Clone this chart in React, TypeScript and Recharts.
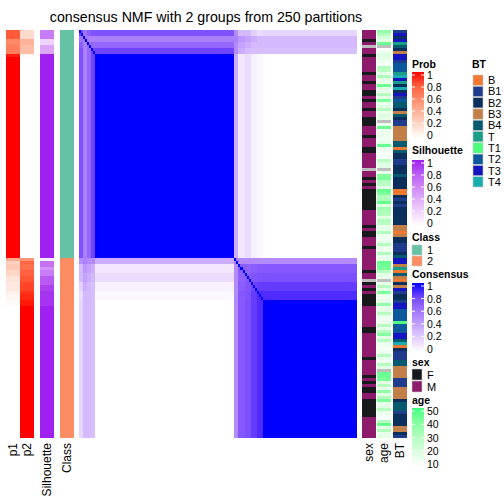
import React from "react";
import { ComposedChart, XAxis, YAxis, ReferenceArea, Scatter } from "recharts";

const N_SAMPLES = 136;
const TOP = 30;
const BODY_H = 408;

// [count, p1, p2] runs, top to bottom
const probRuns: [number, number, number][] = [
  [3, 0.8, 0.2], [2, 0.6, 0.4], [3, 0.65, 0.35], [1, 0.97, 0.03], [67, 1, 0],
  [1, 0.45, 0.55], [1, 0.25, 0.75], [2, 0.28, 0.72], [2, 0.22, 0.78], [2, 0.15, 0.82],
  [3, 0.12, 0.88], [1, 0.08, 0.92], [2, 0.05, 0.95], [2, 0.02, 0.98], [44, 0, 1],
];

const silhouetteRuns: [number, number][] = [
  [3, 0.65], [2, 0.22], [3, 0.45], [68, 1],
  [1, 0.08], [2, 0.7], [1, 0.55], [2, 0.65], [3, 0.8], [2, 0.9], [5, 0.95], [44, 1],
];

const classRuns: [number, number][] = [[76, 1], [60, 2]];

// consensus: sample blocks and upper-triangle block values
const blockSizes = [2, 2, 2, 2, 68, 2, 3, 3, 3, 3, 46];
const consensusRows = [
  [0.8, 0.6, 0.7, 0.75, 0.75, 0.5, 0.3, 0.3, 0.2, 0.15, 0.18],
  [0.6, 0.55, 0.55, 0.55, 0.55, 0.45, 0.4, 0.35, 0.3, 0.3],
  [0.65, 0.65, 0.65, 0.5, 0.4, 0.35, 0.3, 0.3, 0.3],
  [0.8, 0.8, 0.5, 0.35, 0.3, 0.28, 0.28, 0.28],
  [1, 0.35, 0.1, 0.15, 0.06, 0.03, 0],
  [0.55, 0.5, 0.5, 0.5, 0.5, 0.5],
  [0.7, 0.68, 0.7, 0.72, 0.72],
  [0.72, 0.74, 0.75, 0.76],
  [0.8, 0.84, 0.84],
  [0.9, 0.9],
  [1],
];

const sexRuns: [number, string | null][] = [
  [3, "M"], [1, "F"], [1, "M"], [1, null], [2, "M"], [1, "F"], [5, "M"], [1, "F"],
  [2, "M"], [1, "F"], [2, "M"], [2, "F"], [1, "M"], [1, "F"], [2, "M"], [1, "F"],
  [2, "M"], [3, "F"], [3, "M"], [1, "F"], [3, "M"], [2, "F"], [4, "M"],
  [1, "M"], [1, null], [2, "M"], [1, "F"], [1, "M"], [1, "F"], [1, "M"], [7, "F"],
  [5, "M"], [1, "F"], [1, "M"], [2, "F"], [3, "M"], [1, "F"], [7, "M"], [1, "F"],
  [2, "M"], [1, null], [1, "F"], [1, "M"], [1, "F"], [1, "M"], [4, "F"], [7, "M"],
  [2, "F"], [8, "M"], [1, "F"], [5, "M"], [1, "F"], [1, "M"], [1, "F"], [1, "M"],
  [2, "F"], [2, "M"], [6, "F"], [7, "M"],
];

const ageValues: (number | null)[] = [
  38, 30, 22, 18, 45, null, 10, 16, 20, 18,
  14, 12, 30, 28, 16, 32, 18, 15, 45, 18,
  16, 30, 18, 42, 16, 18, 30, 16, 20, 18,
  null, 16, 45, 14, 15, 16, 14, 18, 45, 16,
  14, 12, 12, 28, 20, 18, null, 16, 40, 42,
  30, 28, 18, 45, 42, 30, 32, 46, 18, 35,
  32, 30, 18, 30, 28, 16, 18, 30, 15, 14,
  16, 30, 16, 14, 32, 16, 18, 45, 44, 42,
  30, 18, 16, null, 16, 30, 18, 42, 16, 14,
  18, 38, 16, 18, 30, 16, 14, 15, 30, 16,
  30, 40, 18, 30, 16, 14, 12, 16, 30, 16,
  14, 30, 18, null, 45, 44, 42, 18, 30, 16,
  38, 18, 30, 42, 16, 18, 30, 16, 14, 10,
  30, 45, 18, 30, 16, 18,
];

const btValues: string[] = [
  "B1", "T3", "B2", "T3", "T", "B4", "B2", "B3", "T3", "T3",
  "B1", "T2", "T2", "T2", "T", "T4", "T3", "T", "B2", "T4",
  "B2", "T3", "B1", "T2", "B4", "B4", "B2", "B3", "B4", "B2",
  "B1", "B1", "B3", "B3", "B3", "B3", "B3", "B4", "B4", "B",
  "B4", "B2", "B2", "B1", "B1", "B2", "B2", "B2", "B4", "B2",
  "B2", "B2", "B2", "B", "B", "B2", "B1", "B2", "B1", "B2",
  "B2", "B2", "B2", "B2", "B2", "B3", "B3", "B", "B3", "B2",
  "B2", "B1", "B1", "B1", "B2", "B4", "T3", "T3", "B3", "T",
  "B", "B4", "B3", "B", "B2", "B3", "T3", "B1", "B2", "B2",
  "B1", "T3", "T3", "T2", "T2", "T2", "T2", "T1", "T2", "T2",
  "T2", "T3", "T3", "B4", "T4", "B", "B2", "B1", "B1", "B1",
  "B4", "B4", "B3", "B3", "B3", "B3", "B1", "B1", "B1", "B3",
  "B3", "B3", "B3", "B2", "B4", "B4", "B4", "B1", "B2", "B2",
  "B2", "B2", "B3", "B3", "B2", "B1",
];

const btLevels = ["B", "B1", "B2", "B3", "B4", "T", "T1", "T2", "T3", "T4"];
const btColors = ["#F07830", "#1F3C8C", "#0A2F5C", "#C28048", "#065A70", "#189E86", "#4CFF7E", "#0B589C", "#1414C0", "#18AEB0"];
const sexLevels = ["F", "M"];
const sexColors = ["#171A1C", "#8E1A6C"];
const classLevels = ["1", "2"];
const classColors = ["#66C2A5", "#FC8D62"];
const NA_COLOR = "#BEBEBE";

const PROB_HI = "#FF0000";
const SIL_HI = "#A020F0";
const CONS_HI = "#0000FF";
const AGE_HI = "#40FF80";
const AGE_RANGE = [10, 50];

// ---- white -> colour ramps in LAB, like colorRamp2 ----
function hexToRgb(h: string) {
  const n = parseInt(h.slice(1), 16);
  return [(n >> 16) & 255, (n >> 8) & 255, n & 255];
}
const toLin = (c: number) => {
  c /= 255;
  return c <= 0.04045 ? c / 12.92 : Math.pow((c + 0.055) / 1.055, 2.4);
};
const fromLin = (c: number) => {
  const v = c <= 0.0031308 ? 12.92 * c : 1.055 * Math.pow(Math.max(c, 0), 1 / 2.4) - 0.055;
  return Math.round(Math.max(0, Math.min(1, v)) * 255);
};
function rgbToLab(rgb: number[]) {
  const [R, G, B] = rgb.map(toLin);
  const x = (0.4124 * R + 0.3576 * G + 0.1805 * B) / 0.95047;
  const y = 0.2126 * R + 0.7152 * G + 0.0722 * B;
  const z = (0.0193 * R + 0.1192 * G + 0.9505 * B) / 1.08883;
  const f = (t: number) => (t > 0.008856 ? Math.cbrt(t) : 7.787 * t + 16 / 116);
  const fx = f(x), fy = f(y), fz = f(z);
  return [116 * fy - 16, 500 * (fx - fy), 200 * (fy - fz)];
}
function labToCss(lab: number[]) {
  const fy = (lab[0] + 16) / 116, fx = fy + lab[1] / 500, fz = fy - lab[2] / 200;
  const inv = (t: number) => (t * t * t > 0.008856 ? t * t * t : (t - 16 / 116) / 7.787);
  const x = inv(fx) * 0.95047, y = inv(fy), z = inv(fz) * 1.08883;
  const R = 3.2406 * x - 1.5372 * y - 0.4986 * z;
  const G = -0.9689 * x + 1.8758 * y + 0.0415 * z;
  const B = 0.0557 * x - 0.204 * y + 1.057 * z;
  return `rgb(${fromLin(R)},${fromLin(G)},${fromLin(B)})`;
}
function ramp(hi: string, lo = 0, up = 1) {
  const a = rgbToLab([255, 255, 255]);
  const b = rgbToLab(hexToRgb(hi));
  return (v: number) => {
    const t = Math.max(0, Math.min(1, (v - lo) / (up - lo)));
    return labToCss(a.map((p, i) => p + (b[i] - p) * t));
  };
}
const probCol = ramp(PROB_HI);
const silCol = ramp(SIL_HI);
const consCol = ramp(CONS_HI);
const ageCol = ramp(AGE_HI, AGE_RANGE[0], AGE_RANGE[1]);

type Cell = { x0: number; x1: number; y0: number; y1: number; fill: string };

function runsToCells<T>(runs: [number, ...T[]][], cols: ((r: [number, ...T[]]) => string)[]) {
  const cells: Cell[] = [];
  let s = 0;
  runs.forEach((r) => {
    cols.forEach((fn, c) => cells.push({ x0: c, x1: c + 1, y0: s, y1: s + r[0], fill: fn(r) }));
    s += r[0];
  });
  return cells;
}

const probCells = runsToCells(probRuns as any, [(r: any) => probCol(r[1]), (r: any) => probCol(r[2])]);
const silCells = runsToCells(silhouetteRuns as any, [(r: any) => silCol(r[1])]);
const classCells = runsToCells(classRuns as any, [(r: any) => classColors[r[1] - 1]]);
const sexCells = runsToCells(sexRuns as any, [
  (r: any) => (r[1] === null ? NA_COLOR : sexColors[sexLevels.indexOf(r[1])]),
]);
const ageCells: Cell[] = ageValues.map((v, i) => ({
  x0: 0, x1: 1, y0: i, y1: i + 1, fill: v === null ? NA_COLOR : ageCol(v),
}));
const btCells: Cell[] = btValues.map((v, i) => ({
  x0: 0, x1: 1, y0: i, y1: i + 1, fill: btColors[btLevels.indexOf(v)],
}));

function buildConsensus() {
  const starts: number[] = [];
  let s = 0;
  blockSizes.forEach((b) => { starts.push(s); s += b; });
  const cells: Cell[] = [];
  for (let i = 0; i < blockSizes.length; i++) {
    for (let j = i; j < blockSizes.length; j++) {
      const fill = consCol(consensusRows[i][j - i]);
      cells.push({ x0: starts[j], x1: starts[j] + blockSizes[j], y0: starts[i], y1: starts[i] + blockSizes[i], fill });
      if (i !== j) cells.push({ x0: starts[i], x1: starts[i] + blockSizes[i], y0: starts[j], y1: starts[j] + blockSizes[j], fill });
    }
  }
  // every sample agrees with itself
  blockSizes.forEach((b, k) => {
    if (consensusRows[k][0] >= 1) return;
    for (let t = starts[k]; t < starts[k] + b; t++) {
      cells.push({ x0: t, x1: t + 1, y0: t, y1: t + 1, fill: consCol(1) });
    }
  });
  return cells;
}
const consensusCells = buildConsensus();

function Strip({ left, width, cols, cells }: { left: number; width: number; cols: number; cells: Cell[] }) {
  return (
    <div style={{ position: "absolute", left, top: TOP, width, height: BODY_H, shapeRendering: "crispEdges" } as any}>
      <ComposedChart width={width} height={BODY_H} margin={{ top: 0, right: 0, bottom: 0, left: 0 }} data={[{ x: 0, y: 0 }]}>
        <XAxis type="number" dataKey="x" domain={[0, cols]} hide allowDataOverflow />
        <YAxis type="number" dataKey="y" domain={[0, N_SAMPLES]} reversed hide allowDataOverflow />
        <Scatter data={[{ x: 0, y: 0 }]} fillOpacity={0} isAnimationActive={false} />
        {cells.map((c, i) => (
          <ReferenceArea key={i} x1={c.x0} x2={c.x1} y1={c.y0} y2={c.y1} fill={c.fill} fillOpacity={1} stroke="none" ifOverflow="visible" />
        ))}
      </ComposedChart>
    </div>
  );
}

const FONT = "'Liberation Sans', Arial, Helvetica, sans-serif";

function ColorBar({ id, top, height, hi, lo, up, labels }: { id: string; top: number; height: number; hi: string; lo: number; up: number; labels: string[] }) {
  const fn = ramp(hi, lo, up);
  const stops = [0, 0.2, 0.4, 0.6, 0.8, 1];
  const n = labels.length;
  return (
    <g>
      <defs>
        <linearGradient id={id} x1="0" y1="1" x2="0" y2="0">
          {stops.map((t) => <stop key={t} offset={t} stopColor={fn(lo + t * (up - lo))} />)}
        </linearGradient>
      </defs>
      <rect x={412} y={top} width={12} height={height} fill={`url(#${id})`} />
      {labels.map((l, i) => {
        const y = top + 3 + ((height - 6) * i) / (n - 1);
        return (
          <g key={l}>
            <line x1={412} x2={415} y1={y} y2={y} stroke="#fff" strokeWidth={1} />
            <line x1={421} x2={424} y1={y} y2={y} stroke="#fff" strokeWidth={1} />
            <text x={427} y={y} fontSize={10.5} dominantBaseline="central">{l}</text>
          </g>
        );
      })}
    </g>
  );
}

function Swatches({ x, top, step, colors, labels }: { x: number; top: number; step: number; colors: string[]; labels: string[] }) {
  return (
    <g>
      {labels.map((l, i) => (
        <g key={l}>
          <rect x={x} y={top + i * step} width={10} height={step - 1} fill={colors[i]} stroke="#c8c8c8" strokeWidth={0.6} />
          <text x={x + 15} y={top + i * step + (step - 1) / 2} fontSize={11} dominantBaseline="central">{l}</text>
        </g>
      ))}
    </g>
  );
}

const colLabels: [string, number][] = [
  ["p1", 13], ["p2", 27], ["Silhouette", 47], ["Class", 67], ["sex", 369], ["age", 384], ["BT", 400],
];

export default function App() {
  const probTicks = ["1", "0.8", "0.6", "0.4", "0.2", "0"];
  return (
    <div style={{ position: "fixed", left: 0, top: 0, width: 504, height: 504, background: "#fff", fontFamily: FONT }}>
      <Strip left={6} width={28} cols={2} cells={probCells} />
      <Strip left={40} width={14} cols={1} cells={silCells} />
      <Strip left={60} width={14} cols={1} cells={classCells} />
      <Strip left={79} width={278} cols={N_SAMPLES} cells={consensusCells} />
      <Strip left={362} width={14} cols={1} cells={sexCells} />
      <Strip left={377} width={14} cols={1} cells={ageCells} />
      <Strip left={393} width={14} cols={1} cells={btCells} />
      <svg width={504} height={504} style={{ position: "absolute", left: 0, top: 0, pointerEvents: "none", fontFamily: FONT }}>
        <text x={206} y={22} fontSize={14.2} textAnchor="middle">consensus NMF with 2 groups from 250 partitions</text>
        {colLabels.map(([t, x]) => (
          <text key={t} x={x} y={443} fontSize={12} textAnchor="end" dominantBaseline="central" transform={`rotate(-90 ${x} 443)`}>{t}</text>
        ))}
        <g fontWeight="bold" fontSize={10.5}>
          <text x={412} y={64} dominantBaseline="central">Prob</text>
          <text x={412} y={149.5} dominantBaseline="central">Silhouette</text>
          <text x={412} y={237} dominantBaseline="central">Class</text>
          <text x={412} y={274} dominantBaseline="central">Consensus</text>
          <text x={412} y={362} dominantBaseline="central">sex</text>
          <text x={412} y={400} dominantBaseline="central">age</text>
          <text x={472} y={64} dominantBaseline="central">BT</text>
        </g>
        <ColorBar id="gProb" top={72} height={66} hi={PROB_HI} lo={0} up={1} labels={probTicks} />
        <ColorBar id="gSil" top={160} height={66} hi={SIL_HI} lo={0} up={1} labels={probTicks} />
        <Swatches x={412} top={245} step={11} colors={classColors} labels={classLevels} />
        <ColorBar id="gCons" top={283} height={69} hi={CONS_HI} lo={0} up={1} labels={probTicks} />
        <Swatches x={412} top={369} step={12} colors={sexColors} labels={sexLevels} />
        <ColorBar id="gAge" top={408} height={59} hi={AGE_HI} lo={AGE_RANGE[0]} up={AGE_RANGE[1]} labels={["50", "40", "30", "20", "10"]} />
        <Swatches x={473} top={75} step={11.3} colors={btColors} labels={btLevels} />
      </svg>
    </div>
  );
}
